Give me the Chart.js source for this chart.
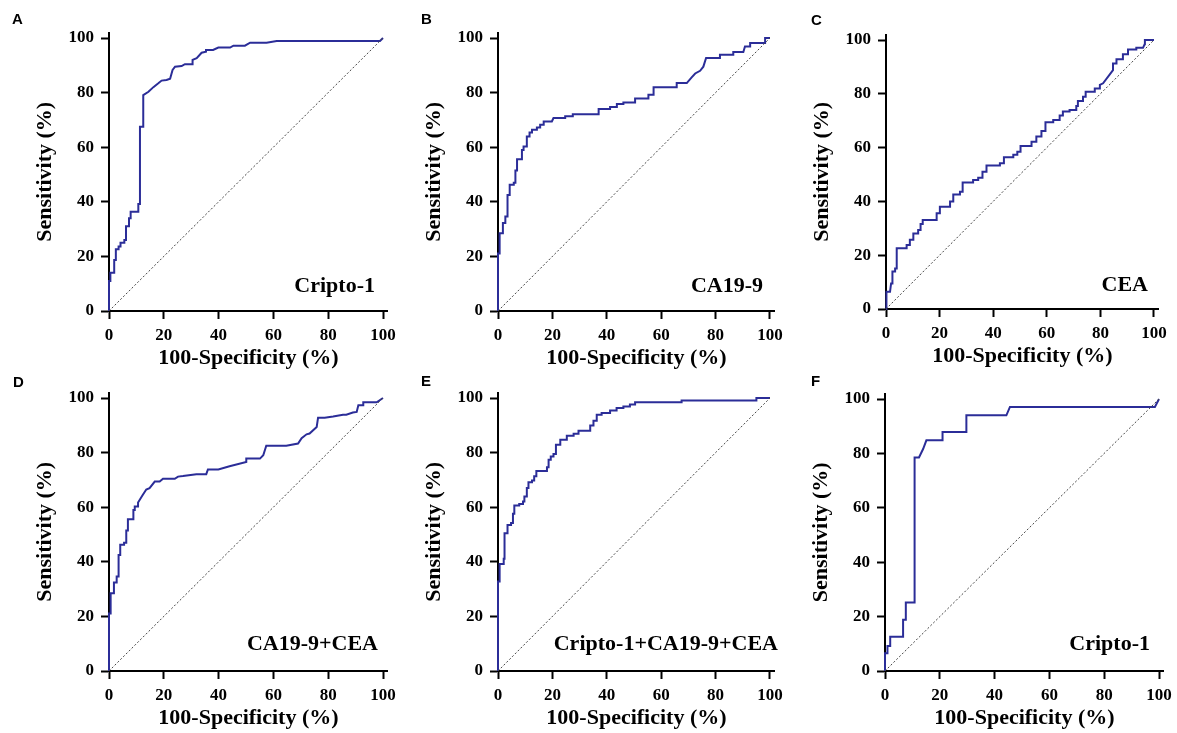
<!DOCTYPE html>
<html>
<head>
<meta charset="utf-8">
<script src="https://cdn.jsdelivr.net/npm/chart.js@4.4.1/dist/chart.umd.min.js"></script>
<style>
  body { margin: 0; background: #fff; }
  #wrap { position: relative; width: 1177px; height: 733px; overflow: hidden; }
  canvas { position: absolute; }
  .tag { position: absolute; font: bold 15px "Liberation Sans", Arial, sans-serif; line-height: 15px; color: #000; }
</style>
</head>
<body>
<div id="wrap"></div>
<script>
// ROC points as [100-specificity, sensitivity] (%)
const cripto1 = [[0,0],[0,11],[0.5,11],[0.5,14],[1.9,14],[1.9,18.7],[2.5,18.7],[2.5,22.6],[3.5,22.6],[3.5,23.6],[4.2,23.6],[4.2,25],[5.6,25],[5.6,26],[6.2,26],[6.2,31],[7.3,31],[7.3,34],[7.9,34],[7.9,36.4],[10.7,36.4],[10.7,39.2],[11.3,39.2],[11.3,67.5],[12.5,67.5],[12.5,79.1],[14.4,80.3],[16.2,82],[18,83.4],[19.2,84.4],[21,84.6],[22.3,85.1],[23.2,88.3],[24.1,89.5],[26.5,89.7],[27.7,90.4],[30.5,90.4],[30.5,92],[32,92.6],[33.8,94.6],[35.4,95],[35.4,95.6],[38,95.6],[39.9,96.5],[44.2,96.5],[45.4,97.2],[49.6,97.2],[51.5,98.3],[57.5,98.3],[61.2,98.9],[98.9,98.9],[100,100]];

const ca199 = [[0,0],[0,21.1],[0.6,21.1],[0.6,28.5],[1.8,28.5],[1.8,32.2],[2.7,32.2],[2.7,34.6],[3.5,34.6],[3.5,42.5],[4.3,42.5],[4.3,46.2],[5.8,46.2],[5.8,47],[6.4,47],[6.4,51.5],[7,51.5],[7,55.6],[8.8,55.6],[8.8,59],[9.4,59],[9.4,60.3],[10.6,60.3],[10.6,63.9],[11.6,63.9],[11.6,65.4],[12.5,65.4],[12.5,66.4],[14.3,66.4],[14.3,67.2],[15.5,67.2],[15.5,68.2],[16.8,68.2],[16.8,69.4],[19.8,69.4],[20.4,70.7],[24.7,70.7],[24.7,71.3],[27.5,71.3],[27.5,72.1],[37,72.1],[37,74],[41.2,74],[41.2,74.7],[43.7,74.7],[43.7,75.8],[46.1,75.8],[46.1,76.4],[50.4,76.4],[50.4,77.8],[55.3,77.8],[55.3,79.2],[57.2,79.2],[57.2,82],[65.7,82],[65.7,83.5],[69.4,83.5],[71.2,85.6],[72.5,87],[74.3,88],[75.5,89.5],[76.5,92.7],[81.6,92.7],[81.6,93.9],[86.5,93.9],[86.5,94.9],[90.2,94.9],[90.8,96.9],[92.7,96.9],[92.7,98.2],[98.2,98.2],[98.2,100],[100,100]];

const cea = [[0,0],[0,2.7],[0.25,2.7],[0.25,6.4],[1.5,6.4],[1.9,9.5],[2.4,9.5],[2.4,13.9],[3.4,13.9],[3.4,15.1],[4,15.1],[4,22.6],[7.7,22.6],[7.7,23.8],[8.9,23.8],[8.9,25.7],[10.2,25.7],[10.2,28.1],[12,28.1],[12,29.4],[12.9,29.4],[12.9,31.6],[13.7,31.6],[13.7,33.1],[18.9,33.1],[18.9,35.6],[20.1,35.6],[20.1,38],[23.9,38],[23.9,40],[25.1,40],[25.1,42.6],[27.6,42.6],[27.6,43.6],[28.6,43.6],[28.6,47],[32.5,47],[32.5,48],[34.4,48],[34.4,48.8],[36,48.8],[36,51],[37.5,51],[37.5,53.3],[42.5,53.3],[42.5,54.2],[44,54.2],[44,56.4],[47.5,56.4],[47.5,57.3],[49,57.3],[49,58.5],[50.2,58.5],[50.2,60.6],[54.3,60.6],[54.3,62.2],[56.1,62.2],[56.1,64.1],[58,64.1],[58,66.2],[59.5,66.2],[59.5,69.4],[62.4,69.4],[62.4,70.3],[64.8,70.3],[64.8,71.9],[66,71.9],[66,73.4],[68.5,73.4],[68.5,74],[71,74],[71,75.5],[71.6,75.5],[71.6,77.3],[73.5,77.3],[73.5,78.9],[74.5,78.9],[74.5,80.8],[77.9,80.8],[77.9,82],[79.8,82],[79.8,83.3],[81,83.9],[84.7,88.8],[84.7,91.3],[86,91.3],[86,92.8],[88.4,92.8],[88.4,94.7],[90.3,94.7],[90.3,96.5],[93.4,96.5],[93.4,97.1],[95.9,97.1],[96.5,98.4],[96.6,98.4],[96.6,100],[100,100]];

const ca199Cea = [[0,0],[0,21.1],[0.6,21.1],[0.6,28.5],[1.8,28.5],[1.8,32.4],[2.8,32.4],[2.8,34.6],[3.5,34.6],[3.5,42.5],[4.1,42.5],[4.1,46.2],[5.5,46.2],[5.5,47],[6.3,47],[6.3,51.5],[6.9,51.5],[6.9,55.6],[8.9,55.6],[8.9,59],[9.4,59],[9.4,60.3],[10.6,60.3],[10.6,61.7],[12.3,64.5],[13.6,66.5],[14.8,67],[16.7,69.4],[18.5,69.4],[19.7,70.4],[24,70.4],[25.2,71.2],[27,71.4],[31.9,72.1],[35.5,72.1],[36.1,73.8],[39.9,73.8],[44,75],[50.1,76.6],[50.1,77.8],[55.1,77.8],[56.3,79],[57.4,82.5],[64.7,82.5],[69,83.3],[70.3,85.3],[72.1,86.7],[73.2,87],[75.8,89.4],[76.3,92.8],[78.7,92.8],[81.8,93.2],[85.4,93.9],[86.6,93.9],[89,94.7],[90.4,94.9],[91,97.3],[92.8,97.3],[92.8,98.4],[97.7,98.4],[100,100]];

const combined = [[0,0],[0,32.8],[0.6,32.8],[0.6,39.2],[2.1,39.2],[2.1,41.1],[2.4,41.1],[2.4,50.5],[3.5,50.5],[3.5,53.5],[4.8,53.5],[4.8,54.2],[5.5,54.2],[5.5,57.6],[6,57.6],[6,60.6],[7.8,60.6],[7.8,61.2],[9.2,61.2],[9.2,62.1],[9.7,62.1],[9.7,63.9],[10.6,63.9],[10.6,67],[11.2,67],[11.2,69.1],[12.5,69.1],[12.5,69.8],[13.3,69.8],[13.3,71.3],[14.1,71.3],[14.1,73.3],[18,73.3],[18,74.6],[18.6,74.6],[18.6,77.4],[19.4,77.4],[19.4,78.6],[20.4,78.6],[20.4,79.5],[21.3,79.5],[21.3,82.9],[22.9,82.9],[22.9,84.7],[25.3,84.7],[25.3,86.2],[27.8,86.2],[27.8,86.9],[29.6,86.9],[29.6,88],[33.9,88],[33.9,89.9],[35.1,89.9],[35.1,91.7],[36.3,91.7],[36.3,93.9],[38.1,93.9],[38.1,94.5],[41.2,94.5],[41.2,95.4],[43.6,95.4],[43.6,96.3],[46.1,96.3],[46.1,96.9],[48.5,96.9],[48.5,97.6],[50.4,97.6],[50.4,98.4],[67.5,98.4],[67.5,99.1],[95,99.1],[95,100],[100,100]];

const cripto1Val = [[0,0],[0,6.5],[0.9,6.5],[0.9,9.2],[1.9,9.2],[1.9,12.6],[6.6,12.6],[6.6,18.8],[7.6,18.8],[7.6,25.2],[10.8,25.2],[10.8,78.5],[12.4,78.5],[13.9,81.6],[15.1,84.8],[21,84.8],[21,87.9],[29.7,87.9],[29.7,94],[44.3,94],[45.6,97.1],[98.5,97.1],[100,100]];

const reference = [[0,0],[100,100]];
const tickValues = [0, 20, 40, 60, 80, 100];

const XMAX = 101.8, YMAX = 102;
const YW = 100, XH = 64, PT = 22;
const serif = '"Liberation Serif", "Times New Roman", serif';

// layout of each panel (axis pixels)
const panels = [
  { tag: "A", name: "Cripto-1", data: cripto1, ax: 109, x100: 383, y100: 38, y0: 311, dx: -8, dy: 19 },
  { tag: "B", name: "CA19-9", data: ca199, ax: 498, x100: 770, y100: 38, y0: 311, dx: -7, dy: 19 },
  { tag: "C", name: "CEA", data: cea, ax: 886, x100: 1154, y100: 40, y0: 309, dx: -6, dy: 18 },
  { tag: "D", name: "CA19-9+CEA", data: ca199Cea, ax: 109, x100: 383, y100: 398, y0: 671, dx: -5, dy: 21 },
  { tag: "E", name: "Cripto-1+CA19-9+CEA", data: combined, ax: 498, x100: 770, y100: 398, y0: 671, dx: 8, dy: 21 },
  { tag: "F", name: "Cripto-1", data: cripto1Val, ax: 885, x100: 1159, y100: 399, y0: 671, dx: -9, dy: 21 },
];
const tagPos = { A: [12, 11], B: [421, 11], C: [811, 12], D: [13, 374], E: [421, 373], F: [811, 373] };

const wrap = document.getElementById("wrap");

const nameLabel = {
  id: "nameLabel",
  afterDatasetsDraw(chart, args, opts) {
    const { ctx, scales: { x, y } } = chart;
    ctx.save();
    ctx.font = "bold 22px " + serif;
    ctx.fillStyle = "#000";
    ctx.textAlign = "right";
    ctx.textBaseline = "alphabetic";
    ctx.fillText(opts.text, x.getPixelForValue(100) + opts.dx, y.getPixelForValue(0) - opts.dy);
    ctx.restore();
  },
};

panels.forEach((p) => {
  const caW = (p.x100 - p.ax) * XMAX / 100;
  const caH = (p.y0 - p.y100) * YMAX / 100;
  const left = p.ax - YW;
  const top = Math.floor(p.y0 - caH - PT);
  const w = Math.ceil(YW + caW + 14);
  const h = Math.round(p.y0 - top + XH);
  const padTop = p.y0 - caH - top;
  const padRight = w - YW - caW;

  const cv = document.createElement("canvas");
  cv.width = w; cv.height = h;
  cv.style.left = left + "px"; cv.style.top = top + "px";
  cv.style.width = w + "px"; cv.style.height = h + "px";
  wrap.appendChild(cv);

  const tag = document.createElement("div");
  tag.className = "tag";
  tag.textContent = p.tag;
  tag.style.left = tagPos[p.tag][0] + "px";
  tag.style.top = tagPos[p.tag][1] + "px";
  wrap.appendChild(tag);

  const axisCommon = {
    type: "linear",
    min: 0,
    afterBuildTicks: (s) => { s.ticks = tickValues.map((v) => ({ value: v })); },
    grid: { drawOnChartArea: false, drawTicks: true, tickLength: 8, tickWidth: 2, tickColor: "#000" },
    border: { display: true, color: "#000", width: 2 },
  };

  new Chart(cv, {
    type: "scatter",
    data: {
      datasets: [
        {
          data: reference.map(([x, y]) => ({ x, y })),
          showLine: true, pointRadius: 0,
          borderColor: "#444", borderWidth: 1, borderDash: [2, 2],
        },
        {
          data: p.data.map(([x, y]) => ({ x, y })),
          showLine: true, pointRadius: 0,
          borderColor: "#2b2d98", borderWidth: 2, clip: 4,
        },
      ],
    },
    options: {
      responsive: false,
      animation: false,
      layout: { padding: { left: 0, top: padTop, right: padRight, bottom: 0 } },
      plugins: {
        legend: { display: false },
        tooltip: { enabled: false },
        nameLabel: { text: p.name, dx: p.dx, dy: p.dy },
      },
      scales: {
        x: {
          ...axisCommon,
          max: XMAX,
          afterFit: (s) => { s.height = XH; },
          ticks: { color: "#000", padding: 6, maxRotation: 0, font: { family: serif, size: 17, weight: "bold" } },
          title: { display: true, text: "100-Specificity (%)", color: "#000", padding: { top: 0, bottom: 3 }, font: { family: serif, size: 22, weight: "bold" } },
        },
        y: {
          ...axisCommon,
          max: YMAX,
          afterFit: (s) => { s.width = YW; },
          ticks: { color: "#000", padding: 7, font: { family: serif, size: 17, weight: "bold" } },
          title: { display: true, text: "Sensitivity (%)", color: "#000", padding: { top: 23, bottom: 0 }, font: { family: serif, size: 22, weight: "bold" } },
        },
      },
    },
    plugins: [nameLabel],
  });
});
</script>
</body>
</html>
